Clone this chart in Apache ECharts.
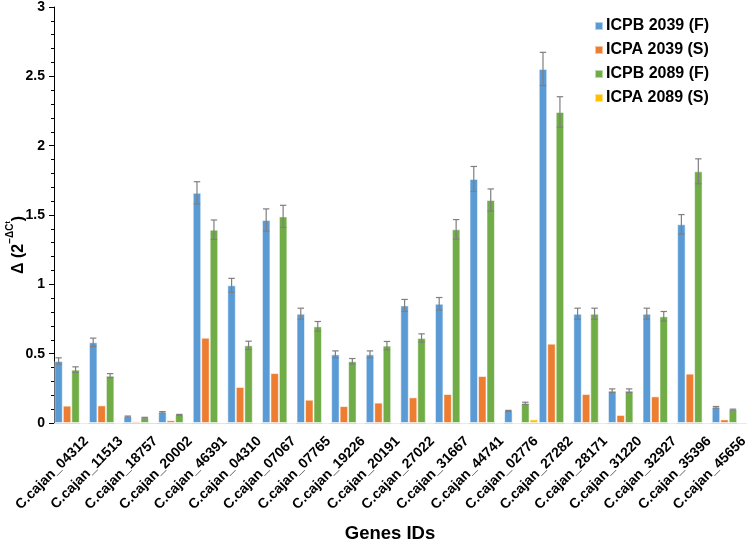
<!DOCTYPE html>
<html><head><meta charset="utf-8">
<script src="https://cdn.jsdelivr.net/npm/echarts@6/dist/echarts.min.js"></script>
<style>html,body{margin:0;padding:0;background:#fff}#c{width:750px;height:543px}</style>
</head><body><div id="c"></div>
<script>
var categories = ['C.cajan_04312','C.cajan_11513','C.cajan_18757','C.cajan_20002','C.cajan_46391','C.cajan_04310','C.cajan_07067','C.cajan_07765','C.cajan_19226','C.cajan_20191','C.cajan_27022','C.cajan_31667','C.cajan_44741','C.cajan_02776','C.cajan_27282','C.cajan_28171','C.cajan_31220','C.cajan_32927','C.cajan_35396','C.cajan_45656'];
var seriesNames = ['ICPB 2039 (F)','ICPA 2039 (S)','ICPB 2089 (F)','ICPA 2089 (S)'];
var icpb2039 = [0.447,0.582,0.046,0.077,1.66,0.993,1.464,0.788,0.495,0.495,0.848,0.86,1.76,0.087,2.553,0.788,0.233,0.788,1.433,0.113];
var icpb2039Err = [0.023,0.03,0.004,0.005,0.08,0.05,0.08,0.04,0.025,0.025,0.043,0.045,0.09,0.004,0.12,0.04,0.013,0.04,0.07,0.006];
var icpa2039 = [0.125,0.127,0.012,0.02,0.615,0.26,0.36,0.168,0.122,0.147,0.185,0.209,0.339,0,0.572,0.209,0.058,0.192,0.356,0.026];
var icpb2089 = [0.385,0.341,0.038,0.058,1.394,0.56,1.49,0.697,0.445,0.558,0.613,1.397,1.608,0.142,2.243,0.788,0.233,0.769,1.815,0.096];
var icpb2089Err = [0.02,0.015,0.003,0.004,0.07,0.03,0.08,0.035,0.02,0.03,0.03,0.07,0.08,0.008,0.11,0.04,0.013,0.035,0.09,0.004];
var icpa2089 = [0,0,0.004,0.003,0.003,0,0,0,0,0,0,0,0,0.026,0,0,0,0,0,0];
var yTicks = [0,0.5,1,1.5,2,2.5,3];

var colors = ['#5B9BD5','#ED7D31','#70AD47','#FFC000'];
var catGap = 0.02;
var labelShift = 15;
function errData(vals, errs){
  return vals.map(function(v,i){ return [i, v-errs[i], v+errs[i]]; });
}
function errSeries(vals, errs, slot){
  return {
    type:'custom', silent:true, z:5,
    data: errData(vals, errs),
    encode:{x:0,y:[1,2]},
    renderItem: function(params, api){
      var ci = api.value(0);
      var lo = api.coord([ci, api.value(1)]);
      var hi = api.coord([ci, api.value(2)]);
      var cw = api.size([1,0])[0];
      var bw = cw*(1-catGap)/4;
      var x = lo[0] + (slot-1.5)*bw;
      var cap = 3.2;
      var st = {stroke:'#7f7f7f', lineWidth:1.2};
      return {type:'group', children:[
        {type:'line', shape:{x1:x,y1:lo[1],x2:x,y2:hi[1]}, style:st},
        {type:'line', shape:{x1:x-cap,y1:lo[1],x2:x+cap,y2:lo[1]}, style:st},
        {type:'line', shape:{x1:x-cap,y1:hi[1],x2:x+cap,y2:hi[1]}, style:st}
      ]};
    }
  };
}
function barSeries(name, vals, color){
  return {name:name, type:'bar', data:vals, barGap:'0%', barCategoryGap:(catGap*100)+'%',
    itemStyle:{color:color, borderColor:'rgba(255,255,255,0.55)', borderWidth:1}};
}
var chart = echarts.init(document.getElementById('c'));
chart.setOption({
  animation:false,
  textStyle:{fontFamily:'Liberation Sans, Arial, sans-serif'},
  grid:[
    {left:54, right:4, top:7, bottom:120, containLabel:false, outerBoundsMode:'none'},
    {left:54+labelShift, right:4-labelShift, top:7, bottom:120, containLabel:false, outerBoundsMode:'none'}
  ],
  legend:{
    orient:'vertical', left:589, top:13, itemWidth:8, itemHeight:8, itemGap:8,
    icon:'rect', data:seriesNames,
    textStyle:{fontSize:16, fontWeight:'bold', color:'#000', padding:[0,0,0,-2]}
  },
  xAxis:[{
    type:'category', data:categories, gridIndex:0,
    axisLine:{lineStyle:{color:'#d9d9d9', width:1}},
    axisTick:{show:false},
    axisLabel:{show:false},
    name:'Genes IDs', nameLocation:'middle', nameGap:101, nameMoveOverlap:false,
    nameTextStyle:{fontSize:18.5, fontWeight:'bold', color:'#000', padding:[0,20,0,0]}
  },{
    type:'category', data:categories, gridIndex:1,
    axisLine:{show:false}, axisTick:{show:false}, splitLine:{show:false},
    axisLabel:{rotate:45, interval:0, fontSize:14, fontWeight:'bold', color:'#000', margin:16}
  }],
  yAxis:[{
    type:'value', min:0, max:3, interval:0.5, gridIndex:0,
    axisLine:{show:true, lineStyle:{color:'#000', width:1}},
    axisTick:{show:true, length:5, lineStyle:{color:'#000'}},
    minorTick:{show:true, splitNumber:5, length:3, lineStyle:{color:'#000'}},
    splitLine:{show:false},
    axisLabel:{fontSize:14, fontWeight:'bold', color:'#000', margin:9,
      formatter:function(v){ return String(v); }},
    name:'{a|Δ (2}{sup|−ΔC}{sub|t}{a|)}', nameLocation:'middle', nameGap:27, nameRotate:90,
    nameMoveOverlap:false,
    nameTextStyle:{color:'#000', padding:[0,60,0,0], rich:{
      a:{fontSize:16, fontWeight:'bold', color:'#000', lineHeight:22, verticalAlign:'bottom'},
      sup:{fontSize:10, fontWeight:'bold', color:'#000', verticalAlign:'top', lineHeight:13},
      sub:{fontSize:7, fontWeight:'bold', color:'#000', verticalAlign:'top', lineHeight:19}
    }}
  },{
    type:'value', min:0, max:3, gridIndex:1, show:false
  }],
  series:[
    barSeries(seriesNames[0], icpb2039, colors[0]),
    barSeries(seriesNames[1], icpa2039, colors[1]),
    barSeries(seriesNames[2], icpb2089, colors[2]),
    barSeries(seriesNames[3], icpa2089, colors[3]),
    errSeries(icpb2039, icpb2039Err, 0),
    errSeries(icpb2089, icpb2089Err, 2)
  ]
});
</script></body></html>
